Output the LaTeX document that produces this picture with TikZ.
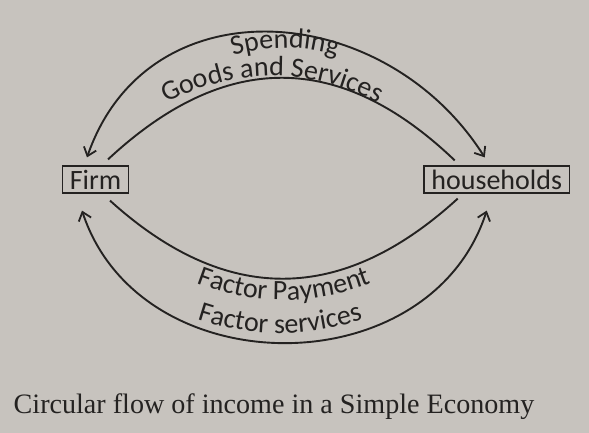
\documentclass[tikz,border=0pt]{standalone}
\usepackage{fontspec}
\setmainfont{Liberation Serif}
\newfontfamily\labelfont{Carlito}
\usetikzlibrary{arrows.meta,calc,positioning,decorations.text}
\definecolor{paper}{RGB}{199,195,190}
\definecolor{ink}{RGB}{36,34,33}
\newcommand{\lblfont}{\labelfont\fontsize{28}{32}\selectfont}
\tikzset{
	flow diagram/.style={
		x=1pt, y=-1pt,
		every node/.style={text=ink},
		>={Straight Barb[length=8pt,width=13pt,line width=1.8pt]},
		box/.style={draw=ink, line width=1.2pt, inner xsep=7.5pt, inner ysep=0pt,
			minimum height=27pt, font=\lblfont},
		ar/.style={draw=ink, line width=1.9pt},
		along/.style={decorate, decoration={text along path, text align=center,
			text={|\lblfont\color{ink}|##1}}}
		}
}

\begin{document}
\begin{tikzpicture}[flow diagram]
	\path[use as bounding box, fill=paper] (0,0) rectangle (589,433);
	\node[box] (firm) at (95.5,179.5) {Firm};
	\node[box, right=294pt of firm] (hh) {households};
	% upper pair
	\draw[ar,<->] ([shift={(-8.5,-8)}]firm.north) .. controls +(61,-176) and +(-100,-158) .. ([shift={(-12,-8)}]hh.north);
	\draw[ar] ([shift={(12.5,-6)}]firm.north) .. controls +(117,-109) and +(-115,-110) .. ([shift={(-42,-5)}]hh.north);
	% lower pair
	\draw[ar] ([shift={(14.5,7)}]firm.south) .. controls +(116,105) and +(-116,106) .. ([shift={(-39,5)}]hh.south);
	\draw[ar,<->] ([shift={(-13.5,17)}]firm.south) .. controls +(58,176) and +(-57,176) .. ([shift={(-10,17)}]hh.south);
	\path[along=Spending] (135,115.5) .. controls (235,25.5) and (335,25.5) .. (435,115.5);
	\path[along=Goods and Services] (112,137.4) .. controls (218.7,55.5) and (325.3,55.5) .. (432,137.4);
	\path[along=Factor Payment] (124,243.7) .. controls (230.7,318.8) and (337.3,318.8) .. (444,243.7);
	\path[along=Factor services] (120,281.8) .. controls (226.7,350.1) and (333.3,350.1) .. (440,281.8);
	\node[anchor=base, font=\fontsize{28.1}{30}\selectfont] (caption) at (274,413) {Circular flow of income in a Simple Economy};
\end{tikzpicture}
\end{document}
